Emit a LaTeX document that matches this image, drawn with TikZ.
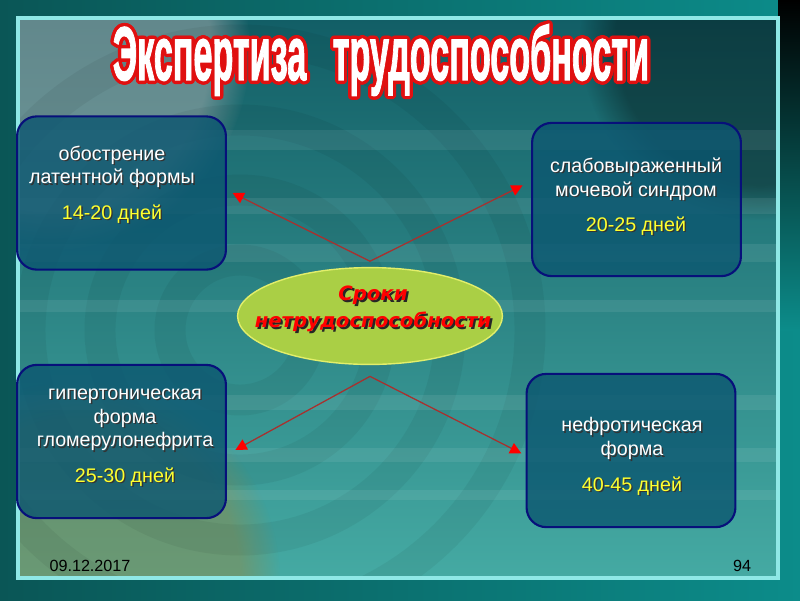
\documentclass[tikz,border=0pt]{standalone}
\usepackage{fontspec}
\setmainfont{Liberation Sans}
\newfontfamily\ellfont{DejaVu Sans}
\newfontfamily\ttlfont[BoldFeatures={FakeBold=2}]{Liberation Sans}
\usetikzlibrary{shapes.geometric,arrows.meta,fadings}
\definecolor{outerl}{HTML}{0A5656}
\definecolor{outerr}{HTML}{0C8C8A}
\definecolor{panelt}{HTML}{125E66}
\definecolor{panelm}{HTML}{13807F}
\definecolor{panelb}{HTML}{45AAA3}
\definecolor{glow}{HTML}{8FE8E6}
\definecolor{boxfill}{HTML}{0B5670}
\definecolor{boxline}{HTML}{07107A}
\definecolor{elfill}{HTML}{AACF45}
\definecolor{elline}{HTML}{E2EE6A}
\definecolor{days}{HTML}{FFFF2E}
\definecolor{linkred}{HTML}{A8302E}
\definecolor{ttlred}{HTML}{E01010}
\newcommand{\shd}[1]{\makebox[0pt][l]{\raisebox{-1pt}{\hspace{1pt}\textcolor{black!80}{#1}}}#1}
\newcommand{\shdd}[1]{\makebox[0pt][l]{\raisebox{-1.5pt}{\hspace{1.5pt}\textcolor{black!85}{#1}}}#1}
\newcommand{\ttltext}{\scalebox{0.45}[1]{Экспертиза\hspace{0.5em} трудоспособности}}

\begin{document}
\begin{tikzpicture}[x=0.025cm, y=-0.025cm,
    bx/.style={draw=boxline, line width=1.5pt, fill=boxfill, fill opacity=0.8,
      rounded corners=14pt, minimum width=5.22cm, minimum height=3.83cm},
    txt/.style={align=center, text=white, font=\fontsize{14}{17}\selectfont},
    ttl/.style={font=\ttlfont\bfseries\fontsize{54}{54}\selectfont, inner sep=0pt},
    link/.style={draw=linkred, line width=0.9pt, -{Triangle[length=8pt,width=8pt,color=red]}},
    foot/.style={font=\fontsize{11.5}{13}\selectfont, text=black}]
  % background
  \shade[left color=outerl, right color=outerr] (0,0) rectangle (800,600);
  \shade[top color=black, bottom color=outerr] (778,0) rectangle (800,330);
  \shade[top color=panelt, middle color=panelm, bottom color=panelb] (18,18) rectangle (778,578);
  \begin{scope}
    \clip (18,18) rectangle (778,578);
    \fill[gray!60, opacity=0.5, path fading=circle with fuzzy edge 20 percent] (50,50) circle (200);
    \fill[olive!50!gray, opacity=0.5, path fading=circle with fuzzy edge 20 percent] (80,580) circle (200);
    \fill[black, opacity=0.35, path fading=circle with fuzzy edge 20 percent] (760,40) circle (180);
    \foreach \r in {70,140,210,290}
      \draw[black, opacity=0.05, line width=22] (240,330) circle (\r);
    \foreach \ya/\yb in {130/150,198/214,244/262,300/312,395/410,448/462,490/500}
      \fill[white, opacity=0.08] (18,\ya) rectangle (778,\yb);
  \end{scope}
  \draw[glow, line width=2.5] (18,18) rectangle (778,578);

  % title
  \foreach \a in {0,22.5,...,337.5}
    \node[ttl, text=ttlred, xshift={2.4*cos(\a)*1pt}, yshift={2.4*sin(\a)*1pt}] (tb\a) at (381,60) {\ttltext};
  \node[ttl, text=white] (ttl) at (381,60) {\ttltext};

  % boxes
  \node[bx] (b1) at (121.5,193) {};
  \node[bx] (b2) at (636.5,199.5) {};
  \node[bx] (b3) at (121.5,441.5) {};
  \node[bx] (b4) at (631,450.5) {};
  \node[txt] (t1) at (112,185) {\shd{обострение}\\ \shd{латентной формы}\\[8pt] \textcolor{days}{\shd{14-20 дней}}};
  \node[txt] (t2) at (636,197) {\shd{слабовыраженный}\\ \shd{мочевой синдром}\\[8pt] \textcolor{days}{\shd{20-25 дней}}};
  \node[txt] (t3) at (125,438) {\shd{гипертоническая}\\ \shd{форма}\\ \shd{гломерулонефрита}\\[8pt] \textcolor{days}{\shd{25-30 дней}}};
  \node[txt] (t4) at (632,457) {\shd{нефротическая}\\ \shd{форма}\\[8pt] \textcolor{days}{\shd{40-45 дней}}};

  % centre
  \node[ellipse, draw=elline, line width=1pt, fill=elfill, minimum width=6.62cm, minimum height=2.42cm] (el) at (370,316) {};
  \node[align=center, text=red, font=\ellfont\bfseries\itshape\fontsize{14}{19}\selectfont] (elt) at (373,310)
    {\shdd{Сроки}\\ \shdd{нетрудоспособности}};

  \path ([yshift=4pt]el.north) edge[link] ([xshift=4pt]b1.east);
  \path ([yshift=4pt]el.north) edge[link] ([xshift=-6pt,yshift=10pt]b2.west);
  \path ([yshift=-8pt]el.south) edge[link] ([xshift=6pt,yshift=-6pt]b3.east);
  \path ([yshift=-8pt]el.south) edge[link] ([xshift=-3pt,yshift=-2pt]b4.west);

  % footer
  \node[foot] (date) at (90,566) {09.12.2017};
  \node[foot] (num) at (742,566) {94};
\end{tikzpicture}
\end{document}
